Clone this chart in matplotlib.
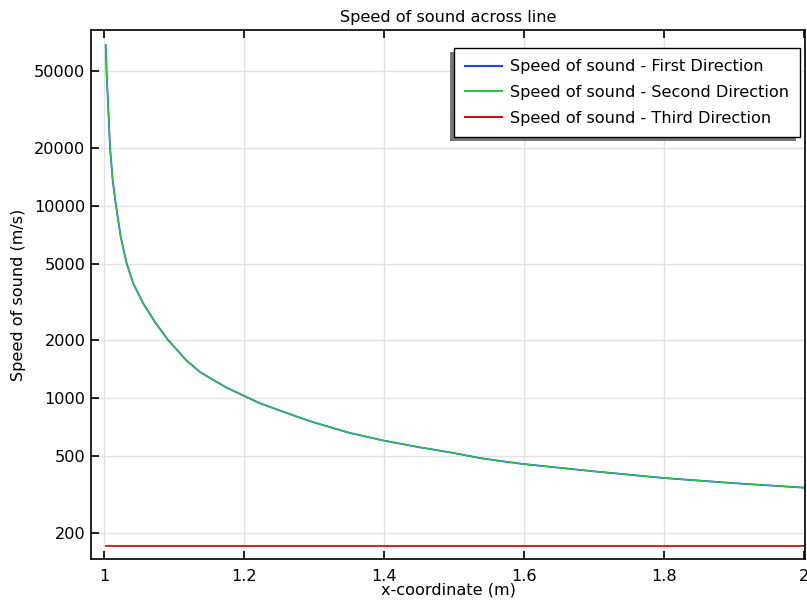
import matplotlib
matplotlib.use("Agg")
import matplotlib.pyplot as plt
from matplotlib.patches import Rectangle

plt.rcParams["font.family"] = ["DejaVu Sans"]

# values
x_pts = [1.0024, 1.0038, 1.0086, 1.0124, 1.0171, 1.0238, 1.0324, 1.0419, 1.0562,
         1.0729, 1.0919, 1.118, 1.137, 1.1514, 1.175, 1.2, 1.2229, 1.25, 1.28, 1.3,
         1.35, 1.4, 1.45, 1.5, 1.537, 1.566, 1.6, 1.7, 1.8, 1.9, 2.0]
c_first = [68000, 48000, 20000, 13540, 10000, 6900, 5000, 3935, 3097,
           2483, 2000, 1570, 1370, 1275, 1137, 1030, 942, 868, 793, 750,
           663, 603, 558, 520, 490, 473, 456, 418, 386, 363, 344]
c_second = list(c_first)
c_third = [171] * len(x_pts)

yticks = [200, 500, 1000, 2000, 5000, 10000, 20000, 50000]
xticks = [1, 1.2, 1.4, 1.6, 1.8, 2]
xtick_labels = ["1", "1.2", "1.4", "1.6", "1.8", "2"]

fs = 11.6

fig = plt.figure(figsize=(8.07, 6.02), dpi=100)
ax = fig.add_axes([91 / 807, 1 - 559 / 602, 714 / 807, 529 / 602])

ax.plot(x_pts, c_first, color="#1a45ff", lw=1.3, label="Speed of sound - First Direction")
ax.plot(x_pts, c_second, color="#2ec83c", lw=1.0, label="Speed of sound - Second Direction")
ax.plot(x_pts, c_third, color="#d01010", lw=1.3, label="Speed of sound - Third Direction")

ax.set_yscale("log")
ax.set_xlim(0.9814, 2.0014)
ax.set_ylim(146.7, 81500)
ax.set_yticks(yticks)
ax.set_yticklabels([str(v) for v in yticks])
ax.yaxis.set_minor_locator(matplotlib.ticker.NullLocator())
ax.set_xticks(xticks)
ax.set_xticklabels(xtick_labels)

ax.grid(True, color="#e3e3e3", lw=1.0)
ax.set_axisbelow(True)
ax.tick_params(direction="in", length=6, width=1.2, labelsize=fs, top=True, pad=4)
ax.tick_params(axis="x", pad=7)
for s in ax.spines.values():
    s.set_linewidth(1.2)

ax.set_title("Speed of sound across line", fontsize=fs, pad=6)
ax.set_xlabel("x-coordinate (m)", fontsize=fs, labelpad=-1)
ax.set_ylabel("Speed of sound (m/s)", fontsize=fs, labelpad=6)

leg = ax.legend(loc="upper right", bbox_to_anchor=(0.993, 0.966), borderaxespad=0,
                fontsize=fs, fancybox=False, framealpha=1, edgecolor="black",
                handlelength=2.25, handletextpad=0.5, labelspacing=0.67, borderpad=0.7)
leg.get_frame().set_linewidth(1.0)
for line in leg.get_lines():
    line.set_linewidth(1.5)

fig.canvas.draw()
bb = leg.get_window_extent().transformed(ax.transAxes.inverted())
dx = 4 / 714
dy = 4 / 529
shadow = Rectangle((bb.x0 - dx, bb.y0 - dy), bb.width, bb.height, transform=ax.transAxes,
                   facecolor="#777777", edgecolor="none", zorder=4.9, clip_on=False)
ax.add_patch(shadow)
leg.set_zorder(5)

fig.savefig("out.png", dpi=100)
